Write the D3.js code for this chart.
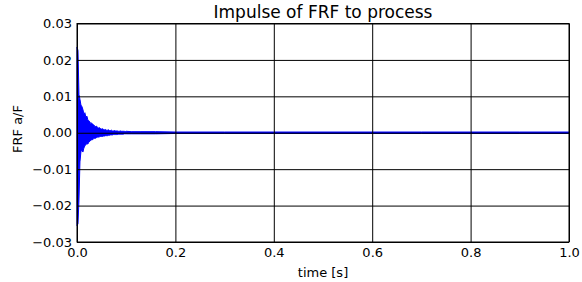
<!DOCTYPE html>
<html>
<head>
<meta charset="utf-8">
<script src="https://cdn.jsdelivr.net/npm/d3@7"></script>
<style>
  body { margin: 0; background: #fff; }
  text { font-family: "DejaVu Sans", sans-serif; fill: #000; }
</style>
</head>
<body>
<script>
// envelope of the impulse response (seconds, a/F)
const time = [
  0.000, 0.002, 0.004, 0.006, 0.008, 0.010, 0.012, 0.014, 0.016, 0.018,
  0.020, 0.022, 0.024, 0.026, 0.028, 0.030, 0.032, 0.034, 0.036, 0.038,
  0.040, 0.042, 0.044, 0.046, 0.048, 0.050, 0.052, 0.054, 0.056, 0.058,
  0.060, 0.062, 0.064, 0.066, 0.068, 0.070, 0.072, 0.074, 0.076, 0.078,
  0.080, 0.082, 0.084, 0.086, 0.088, 0.090, 0.092, 0.094, 0.096, 0.098,
  0.100, 0.110, 0.130, 0.160, 0.200, 0.300, 0.400, 0.500, 0.600, 0.700,
  0.800, 0.900, 1.000
];
const upper = [
  0.0235, 0.0226, 0.0105, 0.0092, 0.0076, 0.0072, 0.0064, 0.0052, 0.0055, 0.0043,
  0.0046, 0.0036, 0.0033, 0.0030, 0.0025, 0.0027, 0.0021, 0.0022, 0.0018, 0.0017,
  0.0018, 0.0014, 0.0013, 0.0014, 0.0011, 0.0010, 0.0011, 0.0009, 0.0008, 0.0009,
  0.0007, 0.0007, 0.0008, 0.0006, 0.0006, 0.0007, 0.0005, 0.0005, 0.0006, 0.0005,
  0.0005, 0.0005, 0.0004, 0.0004, 0.0005, 0.0004, 0.0004, 0.0004, 0.0004, 0.0003,
  0.0004, 0.0003, 0.0003, 0.0003, 0.0002, 0.0002, 0.0002, 0.0002, 0.0002, 0.0002,
  0.0002, 0.0002, 0.0002
];
const lower = [
  -0.0255, -0.0250, -0.0185, -0.0080, -0.0052, -0.0048, -0.0053, -0.0042, -0.0036, -0.0033,
  -0.0030, -0.0031, -0.0026, -0.0023, -0.0021, -0.0019, -0.0019, -0.0016, -0.0015, -0.0015,
  -0.0013, -0.0012, -0.0012, -0.0011, -0.0010, -0.0010, -0.0010, -0.0009, -0.0009, -0.0008,
  -0.0008, -0.0008, -0.0007, -0.0007, -0.0006, -0.0006, -0.0006, -0.0005, -0.0005, -0.0005,
  -0.0005, -0.0005, -0.0004, -0.0004, -0.0004, -0.0004, -0.0004, -0.0004, -0.0003, -0.0003,
  -0.0003, -0.0003, -0.0003, -0.0003, -0.0002, -0.0002, -0.0002, -0.0002, -0.0002, -0.0002,
  -0.0002, -0.0002, -0.0002
];
const xTicks = [0, 0.2, 0.4, 0.6, 0.8, 1.0];
const yTicks = [-0.03, -0.02, -0.01, 0, 0.01, 0.02, 0.03];

const W = 582, H = 282;
const plotL = 77, plotR = 569, plotT = 23.5, plotB = 242;

const svg = d3.select("body").append("svg")
  .attr("width", W)
  .attr("height", H)
  .style("background-color", "#fff");

const x = d3.scaleLinear().domain([0, 1]).range([plotL, plotR]);
const y = d3.scaleLinear().domain([-0.03, 0.03]).range([plotB, plotT]);

// signal (drawn under the grid, like the original)
const area = d3.area()
  .x(i => x(time[i]))
  .y0(i => y(lower[i]))
  .y1(i => y(upper[i]));

svg.append("path")
  .datum(d3.range(time.length))
  .attr("d", area)
  .attr("fill", "#0000ff")
  .attr("stroke", "#0000ff")
  .attr("stroke-width", 1);

// grid + tick labels
const xAxis = svg.append("g")
  .attr("transform", `translate(0,${plotB})`)
  .call(d3.axisBottom(x).tickValues(xTicks).tickFormat(d3.format(".1f"))
    .tickSize(-(plotB - plotT)).tickPadding(6));

const yAxis = svg.append("g")
  .attr("transform", `translate(${plotL},0)`)
  .call(d3.axisLeft(y).tickValues(yTicks).tickFormat(d3.format(".2f"))
    .tickSize(-(plotR - plotL)).tickPadding(5));

[xAxis, yAxis].forEach(g => {
  g.select(".domain").remove();
  g.selectAll("line").attr("stroke", "#000").attr("stroke-width", 1);
  g.selectAll("text")
    .attr("font-family", "DejaVu Sans")
    .attr("font-size", "13px")
    .attr("fill", "#000");
});

// frame
svg.append("rect")
  .attr("x", plotL)
  .attr("y", plotT)
  .attr("width", plotR - plotL)
  .attr("height", plotB - plotT)
  .attr("fill", "none")
  .attr("stroke", "#000")
  .attr("stroke-width", 1);

svg.append("text")
  .attr("x", (plotL + plotR) / 2)
  .attr("y", 18)
  .attr("text-anchor", "middle")
  .attr("font-size", "17px")
  .text("Impulse of FRF to process");

svg.append("text")
  .attr("x", (plotL + plotR) / 2)
  .attr("y", 277)
  .attr("text-anchor", "middle")
  .attr("font-size", "13px")
  .text("time [s]");

svg.append("text")
  .attr("transform", "translate(22,129) rotate(-90)")
  .attr("text-anchor", "middle")
  .attr("font-size", "13px")
  .text("FRF a/F");
</script>
</body>
</html>
